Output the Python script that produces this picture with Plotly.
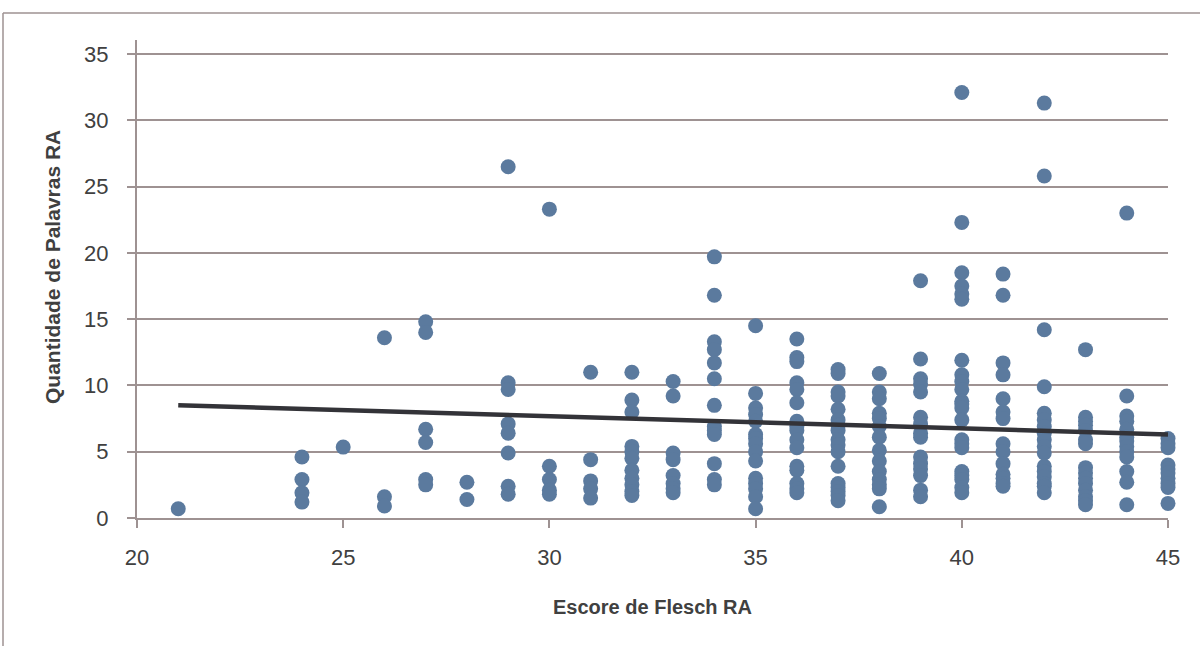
import plotly.graph_objects as go

# Flesch score groups and word counts
escore_groups = [21, 24, 25, 26, 27, 28, 29, 30, 31, 32, 33, 34, 35, 36, 37, 38, 39, 40, 41, 42, 43, 44, 45]
palavras_groups = [
    [0.7],
    [4.6, 2.9, 1.9, 1.2],
    [5.35],
    [13.6, 1.6, 0.9],
    [14.8, 14.0, 6.7, 5.7, 2.9, 2.5],
    [2.7, 1.4],
    [26.5, 10.2, 9.7, 7.1, 6.4, 4.9, 2.4, 1.8],
    [23.3, 3.9, 2.9, 2.1, 1.8],
    [11.0, 4.4, 2.8, 2.2, 1.5],
    [11.0, 8.9, 8.0, 5.4, 5.0, 4.5, 3.6, 3.0, 2.5, 2.0, 1.7],
    [10.3, 9.2, 4.9, 4.4, 3.2, 2.6, 2.2, 1.9],
    [19.7, 16.8, 13.3, 12.7, 11.7, 10.5, 8.5, 6.9, 6.6, 6.3, 4.1, 2.9, 2.5],
    [14.5, 9.4, 8.3, 7.8, 7.3, 6.3, 6.0, 5.6, 5.0, 4.3, 3.0, 2.6, 2.2, 1.6, 0.7],
    [13.5, 12.1, 11.8, 10.2, 9.7, 8.7, 7.3, 6.9, 6.6, 5.9, 5.3, 3.9, 3.6, 2.6, 2.2, 1.9],
    [11.2, 10.9, 9.5, 9.2, 8.2, 7.4, 7.0, 6.6, 5.9, 5.5, 5.0, 3.9, 2.6, 2.3, 2.0, 1.7, 1.3],
    [10.9, 9.5, 9.0, 7.9, 7.5, 6.9, 6.1, 5.1, 4.3, 3.5, 2.9, 2.5, 2.2, 0.85],
    [17.9, 12.0, 10.5, 10.1, 9.5, 7.6, 7.1, 6.4, 6.1, 4.6, 4.1, 3.7, 3.2, 2.1, 1.6],
    [32.1, 22.3, 18.5, 17.5, 16.9, 16.5, 11.9, 10.8, 10.3, 9.7, 8.8, 8.6, 8.3, 7.4, 5.9, 5.6, 5.3, 3.5, 3.2, 2.9, 2.3, 1.9],
    [18.4, 16.8, 11.7, 10.8, 9.0, 8.0, 7.5, 5.6, 5.0, 4.1, 3.3, 3.0, 2.6, 2.4],
    [31.3, 25.8, 14.2, 9.9, 7.9, 7.4, 6.9, 6.4, 5.9, 5.4, 4.9, 3.9, 3.5, 3.1, 2.6, 2.4, 1.9],
    [12.7, 7.6, 7.3, 7.0, 6.6, 5.9, 5.6, 3.8, 3.4, 3.0, 2.6, 2.1, 1.6, 1.3, 1.0],
    [23.0, 9.2, 7.7, 7.3, 6.7, 6.1, 5.8, 5.4, 5.0, 4.6, 3.5, 2.7, 1.0],
    [6.0, 5.6, 5.3, 4.0, 3.7, 3.4, 3.0, 2.6, 2.3, 1.1],
]

# Linear trend line endpoints
trend_x = [21, 45]
trend_y = [8.5, 6.3]

x_ticks = [20, 25, 30, 35, 40, 45]
y_ticks = [0, 5, 10, 15, 20, 25, 30, 35]

x_title = "Escore de Flesch RA"
y_title = "Quantidade de Palavras RA"

escore = []
palavras = []
for xv, ys in zip(escore_groups, palavras_groups):
    for yv in ys:
        escore.append(xv)
        palavras.append(yv)

grid_col = "#9e9292"
text_col = "#404040"
font_fam = "Liberation Sans, Arial, sans-serif"

fig = go.Figure()
fig.add_trace(go.Scatter(
    x=escore, y=palavras, mode="markers",
    marker=dict(size=15, color="#5b7a9e", line=dict(width=0)),
    cliponaxis=False, showlegend=False, hoverinfo="x+y",
))
fig.add_trace(go.Scatter(
    x=trend_x, y=trend_y, mode="lines",
    line=dict(color="#333338", width=4.5),
    showlegend=False, hoverinfo="skip",
))

# plot area: x 137..1168, y 40..518
W, H = 1200, 646
L, R, T, B = 137, 1168, 40, 518
pw, ph = R - L, B - T
def px(xp):
    return (xp - L) / pw
def py(yp):
    return (B - yp) / ph

fig.update_layout(
    width=W, height=H,
    margin=dict(l=L, r=W - R, t=T, b=H - B),
    paper_bgcolor="white", plot_bgcolor="white",
    font=dict(family=font_fam, color=text_col),
    shapes=[
        dict(type="line", xref="paper", yref="paper",
             x0=px(3), x1=px(1200), y0=py(13), y1=py(13),
             line=dict(color=grid_col, width=1.5)),
        dict(type="line", xref="paper", yref="paper",
             x0=px(3), x1=px(3), y0=py(13), y1=py(646),
             line=dict(color=grid_col, width=1.5)),
    ],
    annotations=[
        dict(text="<b>" + y_title + "</b>", xref="paper", yref="paper",
             x=px(52), y=py(267), xanchor="center", yanchor="middle",
             textangle=-90, showarrow=False,
             font=dict(size=21, color=text_col, family=font_fam)),
    ],
)
fig.update_xaxes(
    range=[20, 45], tickvals=x_ticks, ticktext=[str(v) for v in x_ticks],
    showgrid=False, zeroline=False,
    showline=True, linecolor=grid_col, linewidth=2,
    ticks="outside", ticklen=8, tickwidth=2, tickcolor=grid_col,
    tickfont=dict(size=22, color=text_col, family=font_fam),
    ticklabelstandoff=11,
    title=dict(text="<b>" + x_title + "</b>", standoff=31,
               font=dict(size=20, color=text_col, family=font_fam)),
)
fig.update_yaxes(
    range=[0, 36.06], tickvals=y_ticks, ticktext=[str(v) for v in y_ticks],
    showgrid=True, gridcolor=grid_col, gridwidth=2, zeroline=False,
    showline=True, linecolor=grid_col, linewidth=2,
    ticks="outside", ticklen=8, tickwidth=2, tickcolor=grid_col,
    tickfont=dict(size=22, color=text_col, family=font_fam),
    ticklabelstandoff=14,
)

fig.write_html("out.html")
